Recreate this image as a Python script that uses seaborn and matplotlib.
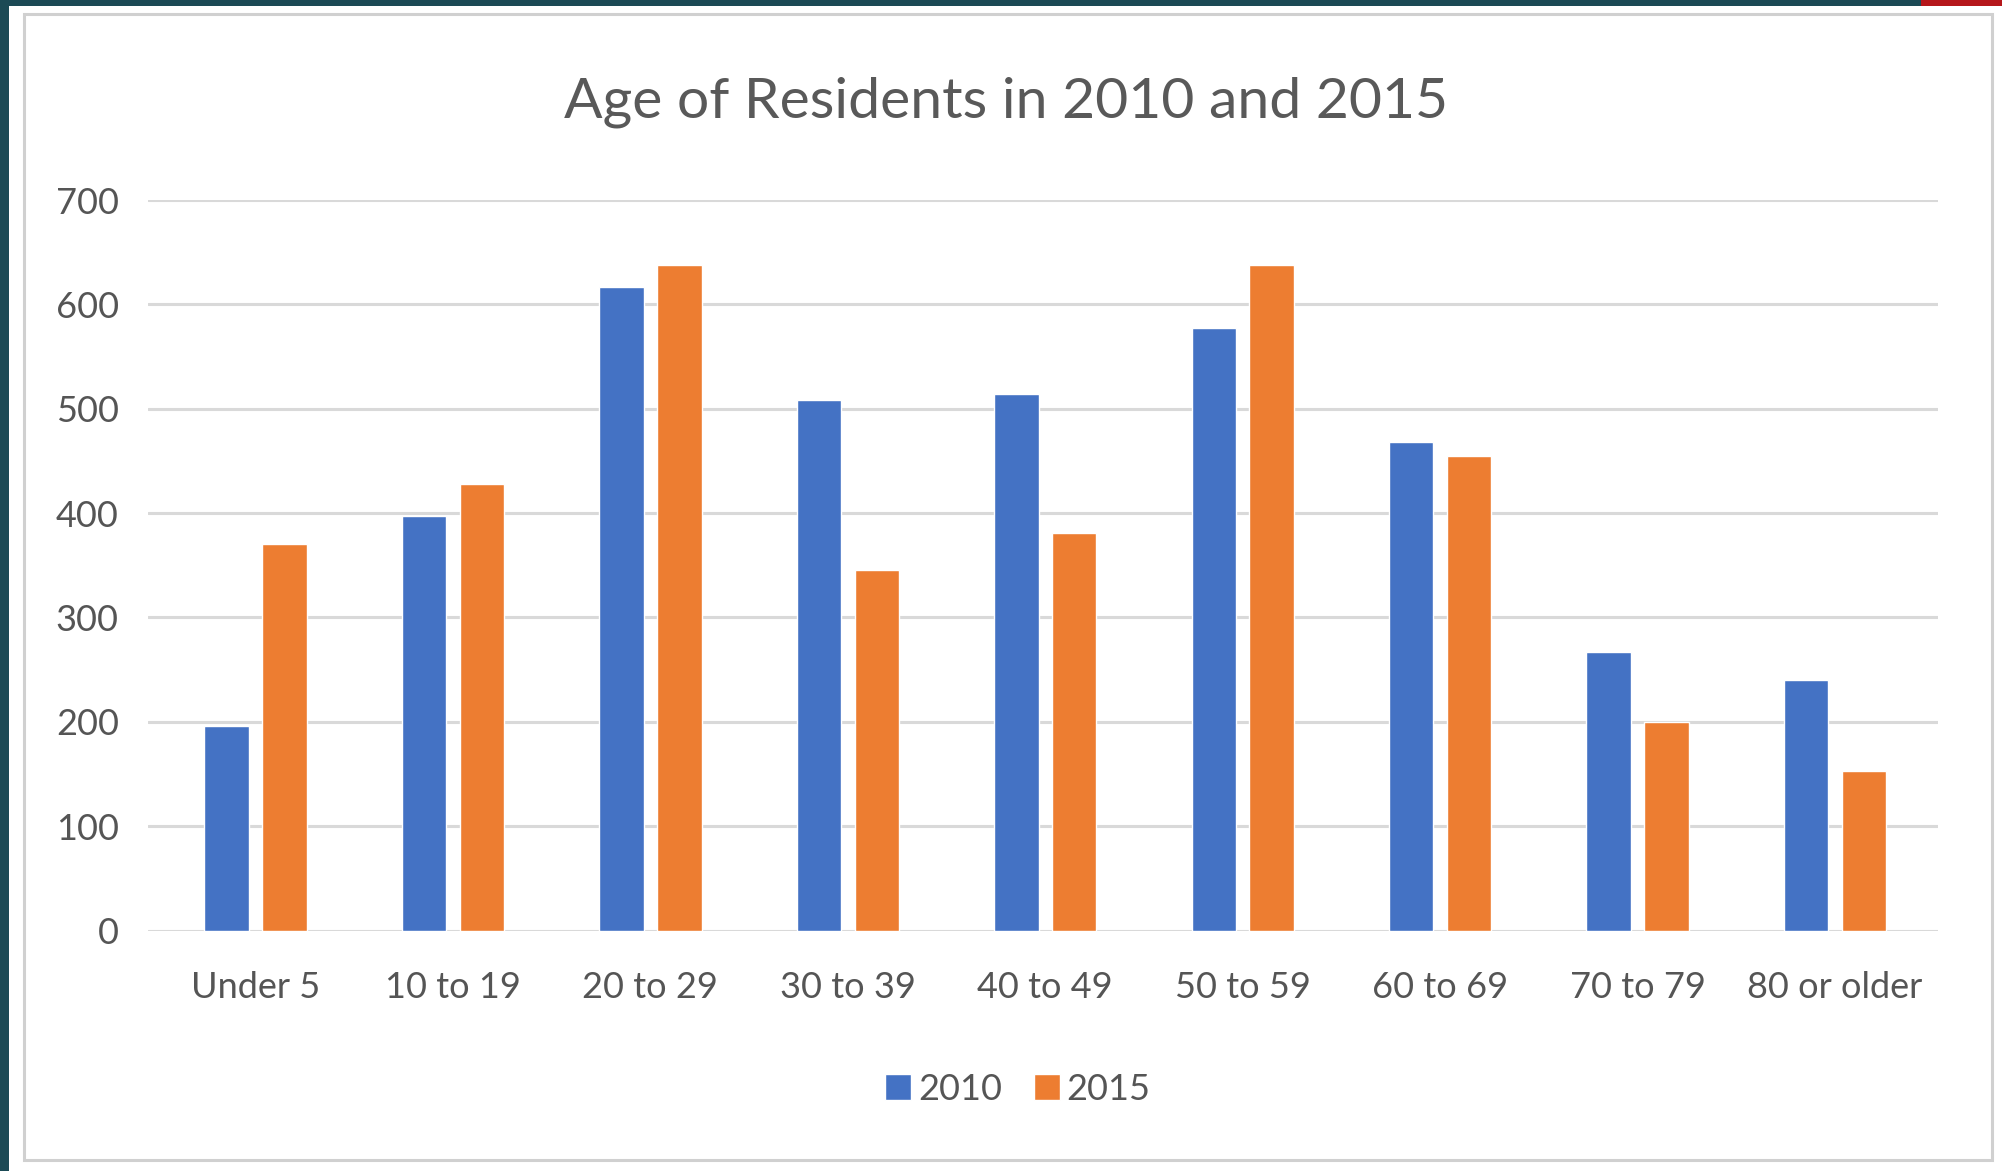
import matplotlib
matplotlib.use("Agg")
import matplotlib.pyplot as plt
from matplotlib.patches import Rectangle
import seaborn as sns
import pandas as pd

# ---- data ----
categories = ["Under 5", "10 to 19", "20 to 29", "30 to 39", "40 to 49",
              "50 to 59", "60 to 69", "70 to 79", "80 or older"]
values_2010 = [196, 397, 617, 508, 514, 577, 468, 267, 240]
values_2015 = [370, 428, 638, 345, 381, 638, 455, 200, 153]
series_names = ["2010", "2015"]
y_ticks = [0, 100, 200, 300, 400, 500, 600, 700]
title_text = "Age of Residents in 2010 and 2015"

df = pd.DataFrame({
    "Age": categories * 2,
    "Residents": values_2010 + values_2015,
    "Year": [series_names[0]] * len(categories) + [series_names[1]] * len(categories),
})

sns.set_style("white")
plt.rcParams["font.family"] = ["Lato", "DejaVu Sans"]

W, H = 2002, 1171
fig = plt.figure(figsize=(W / 100, H / 100), dpi=100, facecolor="#1c4a55")

def fx(px):
    return px / W

def fy(py):
    return 1 - py / H

# white panel
fig.patches.append(Rectangle((fx(9), 0), 1 - fx(9), fy(6), transform=fig.transFigure,
                             facecolor="white", edgecolor="none", zorder=-3))
# red corner
fig.patches.append(Rectangle((fx(1921), fy(6)), 1 - fx(1921), 1 - fy(6), transform=fig.transFigure,
                             facecolor="#b5171b", edgecolor="none", zorder=-3))
# chart border
fig.patches.append(Rectangle((fx(24), fy(1160)), fx(1992) - fx(24), fy(14) - fy(1160),
                             transform=fig.transFigure, facecolor="none",
                             edgecolor="#d0d0d0", linewidth=2.2, zorder=-2))

left, right = 148, 1938
top, bottom = 200, 930.5
ax = fig.add_axes([fx(left), fy(bottom), fx(right) - fx(left), fy(top) - fy(bottom)])
ax.set_facecolor("none")
ax.set_zorder(2)

sns.barplot(data=df, x="Age", y="Residents", hue="Year",
            palette=["#4472C4", "#ED7D31"], saturation=1,
            width=0.586, gap=0.232, ax=ax, errorbar=None)

ax.set_xlim(-0.545, 8.522)
ax.set_ylim(0, 700)
ax.set_yticks(y_ticks)
ax.set_yticklabels([str(t) for t in y_ticks])
ax.yaxis.grid(True, color="#d9d9d9", linewidth=2.2)
ax.set_axisbelow(True)
for s in ax.spines.values():
    s.set_visible(False)
ax.set_xlabel("")
ax.set_ylabel("")
ax.tick_params(axis="y", length=0, pad=21, labelsize=26, labelcolor="#555555")
ax.tick_params(axis="x", length=0, pad=29, labelsize=26, labelcolor="#555555")

handles, labels = ax.get_legend_handles_labels()
if ax.get_legend() is not None:
    ax.get_legend().remove()
fig.legend(handles, labels, loc="center", bbox_to_anchor=(fx(1018), fy(1089)),
           bbox_transform=fig.transFigure, ncol=2, frameon=False, fontsize=26,
           labelcolor="#555555", handlelength=0.7, handleheight=0.7,
           handletextpad=0.2, columnspacing=0.9)

fig.text(fx(1006), fy(102), title_text, ha="center", va="center",
         fontsize=41, color="#595959")

fig.savefig("out.png", dpi=100, facecolor=fig.get_facecolor())
